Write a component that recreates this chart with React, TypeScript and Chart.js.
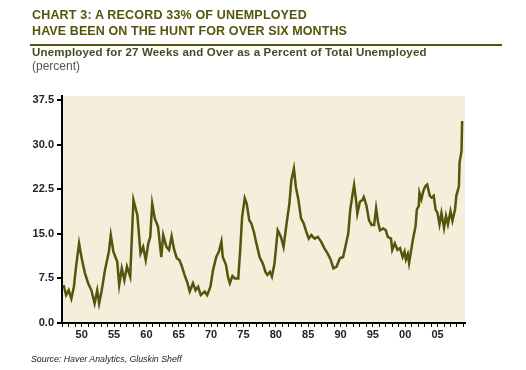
import React, { useEffect, useRef } from "react";
import { Chart, registerables } from "chart.js";

Chart.register(...registerables);

const years: number[] = [
  1947.7, 1948.1, 1948.5, 1948.9, 1949.3, 1949.6, 1950.1, 1950.5, 1951.0, 1951.5,
  1952.0, 1952.5, 1952.9, 1953.2, 1953.6, 1954.1, 1954.7, 1955.0, 1955.4, 1956.0,
  1956.3, 1956.7, 1957.1, 1957.5, 1958.0, 1958.5, 1959.1, 1959.6, 1960.0, 1960.4,
  1960.8, 1961.1, 1961.4, 1961.8, 1962.3, 1962.8, 1963.1, 1963.6, 1964.0, 1964.4,
  1964.8, 1965.2, 1965.6, 1965.9, 1966.4, 1966.8, 1967.2, 1967.7, 1968.1, 1968.5,
  1968.9, 1969.5, 1969.9, 1970.4, 1970.8, 1971.3, 1971.7, 1972.1, 1972.3, 1972.8,
  1973.1, 1973.4, 1973.8, 1974.2, 1974.7, 1975.0, 1975.3, 1975.7, 1976.0, 1976.4,
  1976.7, 1977.1, 1977.5, 1978.0, 1978.5, 1978.9, 1979.2, 1979.6, 1979.9, 1980.3,
  1980.8, 1981.3, 1981.7, 1982.2, 1982.6, 1982.9, 1983.3, 1983.6, 1984.0, 1984.4,
  1984.8, 1985.2, 1985.6, 1986.0, 1986.5, 1987.0, 1987.5, 1988.0, 1988.5, 1989.0,
  1989.4, 1989.9, 1990.4, 1990.9, 1991.3, 1991.7, 1992.0, 1992.3, 1992.6, 1992.9,
  1993.1, 1993.5, 1993.9, 1994.1, 1994.5, 1994.9, 1995.3, 1995.7, 1996.0, 1996.3,
  1996.6, 1997.1, 1997.5, 1997.8, 1998.3, 1998.5, 1998.9, 1999.3, 1999.7, 2000.1,
  2000.4, 2000.6, 2000.9, 2001.1, 2001.4, 2001.7, 2002.1, 2002.3, 2002.6, 2002.7,
  2003.0, 2003.3, 2003.6, 2003.9, 2004.3, 2004.6, 2004.9, 2005.2, 2005.5, 2005.8,
  2006.1, 2006.5, 2006.8, 2007.1, 2007.5, 2007.8, 2008.2, 2008.4, 2008.8, 2008.9,
  2009.2, 2009.3,
];

const longTermShare: number[] = [
  6.4, 4.7, 5.5, 4.1, 6.1, 9.2, 13.4, 10.9, 8.4, 6.7,
  5.5, 3.3, 5.5, 3.3, 5.5, 8.9, 12.0, 14.8, 12.0, 10.3,
  6.4, 9.2, 7.2, 9.5, 7.8, 20.7, 18.2, 11.7, 12.8, 10.6,
  13.4, 14.5, 20.1, 17.6, 16.2, 11.1, 14.8, 12.8, 12.3, 14.6,
  12.3, 10.9, 10.6, 9.8, 8.1, 6.9, 5.3, 6.7, 5.5, 6.1,
  4.7, 5.3, 4.7, 6.1, 8.9, 11.1, 12.0, 13.7, 11.1, 9.8,
  7.8, 6.7, 7.9, 7.5, 7.5, 12.3, 17.9, 21.0, 20.1, 17.3,
  16.8, 15.4, 13.4, 11.1, 10.0, 8.6, 8.1, 8.6, 7.8, 10.0,
  15.6, 14.5, 12.8, 17.0, 20.1, 24.0, 26.0, 22.9, 20.7, 17.6,
  16.8, 15.4, 14.2, 14.8, 14.2, 14.5, 13.7, 12.6, 11.7, 10.6,
  9.2, 9.5, 10.9, 11.1, 13.1, 15.1, 19.0, 21.2, 23.2, 20.7,
  18.4, 20.4, 20.7, 21.2, 19.8, 17.3, 16.5, 16.5, 19.3, 17.0,
  15.6, 15.9, 15.6, 14.5, 14.2, 12.3, 13.4, 12.3, 12.6, 11.1,
  12.0, 10.7, 11.6, 10.1, 12.1, 14.1, 16.3, 19.1, 19.7, 21.9,
  20.8, 22.2, 23.0, 23.3, 21.4, 21.1, 21.4, 19.1, 18.5, 16.6,
  18.5, 16.0, 18.0, 16.6, 18.8, 17.2, 19.1, 21.4, 23.0, 27.0,
  28.9, 34.0,
];

const yTicks: number[] = [0, 7.5, 15, 22.5, 30, 37.5];
const xLabelYears: number[] = [1950, 1955, 1960, 1965, 1970, 1975, 1980, 1985, 1990, 1995, 2000, 2005];
const xLabels: string[] = ["50", "55", "60", "65", "70", "75", "80", "85", "90", "95", "00", "05"];

const OLIVE = "#55550c";
const CREAM = "#f4eedb";

const bgPlugin = {
  id: "plotBg",
  beforeDraw(chart: any) {
    const { ctx, chartArea } = chart;
    if (!chartArea) return;
    ctx.save();
    ctx.fillStyle = CREAM;
    ctx.fillRect(chartArea.left, chartArea.top, chartArea.right - chartArea.left, chartArea.bottom - chartArea.top);
    ctx.restore();
  },
};

export default function App() {
  const ref = useRef<HTMLCanvasElement | null>(null);

  useEffect(() => {
    if (!ref.current) return;
    const data = years.map((x, i) => ({ x, y: longTermShare[i] }));
    const chart = new Chart(ref.current, {
      type: "line",
      data: {
        datasets: [
          {
            data,
            borderColor: OLIVE,
            borderWidth: 2.5,
            pointRadius: 0,
            tension: 0,
            fill: false,
          },
        ],
      },
      options: {
        animation: false,
        responsive: false,
        maintainAspectRatio: false,
        layout: { padding: { left: 0, top: 96, right: 61, bottom: 0 } },
        plugins: { legend: { display: false }, tooltip: { enabled: false } },
        scales: {
          x: {
            type: "linear",
            min: 1947.46,
            max: 2009.74,
            afterFit(scale: any) {
              scale.height = 47;
            },
            afterBuildTicks(scale: any) {
              const t: any[] = [];
              for (let y = 1947; y <= 2009; y++) t.push({ value: y + 0.5 });
              scale.ticks = t;
            },
            ticks: {
              autoSkip: false,
              maxRotation: 0,
              padding: 1,
              color: "#222",
              font: { family: "Liberation Sans", size: 11, weight: "bold" },
              callback(v: any) {
                const yr = Math.round(Number(v) - 0.5);
                const i = xLabelYears.indexOf(yr);
                return i >= 0 ? xLabels[i] : "";
              },
            },
            grid: { drawOnChartArea: false, drawTicks: true, tickLength: 4, color: "#000", lineWidth: 1 },
            border: { display: true, color: "#000", width: 2 },
          },
          y: {
            min: 0,
            max: 38.2,
            afterFit(scale: any) {
              scale.width = 62;
            },
            afterBuildTicks(scale: any) {
              scale.ticks = yTicks.map((v) => ({ value: v }));
            },
            ticks: {
              padding: 3,
              color: "#222",
              font: { family: "Liberation Sans", size: 11, weight: "bold" },
              callback(v: any) {
                return Number(v).toFixed(1);
              },
            },
            grid: { drawOnChartArea: false, drawTicks: true, tickLength: 5, color: "#000", lineWidth: 2 },
            border: { display: true, color: "#000", width: 2 },
          },
        },
      },
      plugins: [bgPlugin],
    });
    return () => chart.destroy();
  }, []);

  const base: React.CSSProperties = {
    position: "absolute",
    fontFamily: "Liberation Sans, Arial, sans-serif",
    whiteSpace: "nowrap",
    margin: 0,
  };

  return (
    <div style={{ position: "fixed", left: 0, top: 0, width: 526, height: 370, background: "#fff", overflow: "hidden" }}>
      <canvas ref={ref} width={526} height={370} style={{ position: "absolute", left: 0, top: 0 }} />
      <div style={{ ...base, left: 32, top: 7, fontSize: 12.5, lineHeight: "16px", fontWeight: "bold", letterSpacing: "0.18px", color: OLIVE }}>
        CHART 3: A RECORD 33% OF UNEMPLOYED
      </div>
      <div style={{ ...base, left: 32, top: 23, fontSize: 12.5, lineHeight: "16px", fontWeight: "bold", letterSpacing: "0.1px", color: OLIVE }}>
        HAVE BEEN ON THE HUNT FOR OVER SIX MONTHS
      </div>
      <div style={{ position: "absolute", left: 30, top: 43.5, width: 472, height: 2, background: OLIVE }} />
      <div style={{ ...base, left: 32, top: 45, fontSize: 11.5, lineHeight: "14px", fontWeight: "bold", letterSpacing: "0.18px", color: "#4a4a22" }}>
        Unemployed for 27 Weeks and Over as a Percent of Total Unemployed
      </div>
      <div style={{ ...base, left: 32, top: 59, fontSize: 12, lineHeight: "14px", color: "#555" }}>(percent)</div>
      <div style={{ ...base, left: 31, top: 353, fontSize: 8.8, lineHeight: "12px", fontStyle: "italic", color: "#222" }}>
        Source: Haver Analytics, Gluskin Sheff
      </div>
    </div>
  );
}
